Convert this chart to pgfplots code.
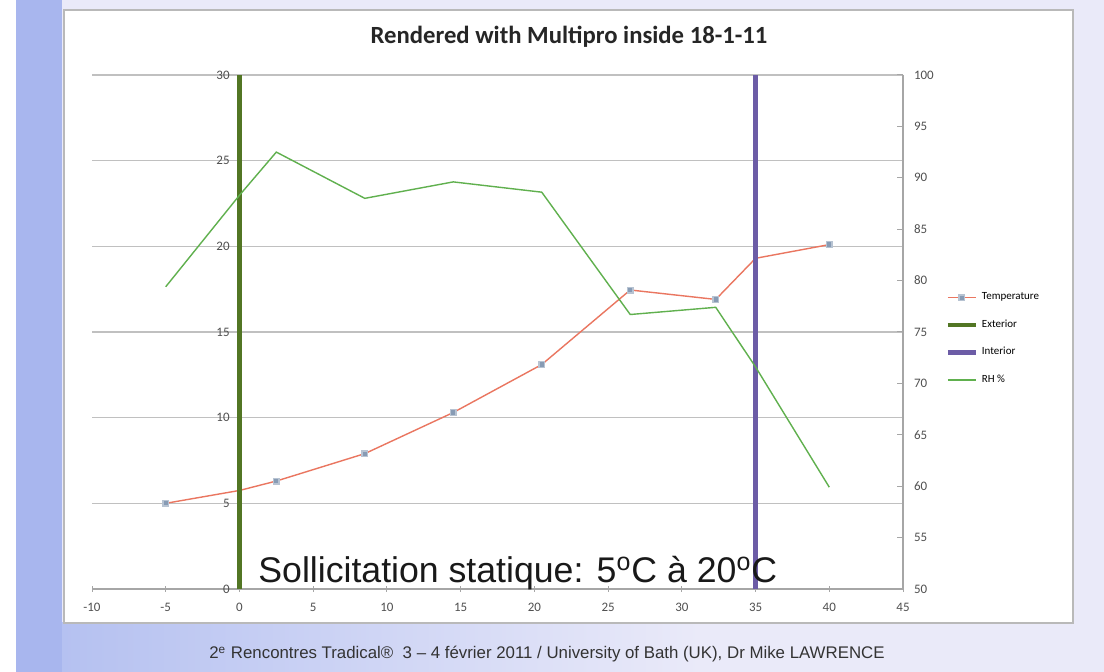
\documentclass[border=0pt]{standalone}
\usepackage{pgfplots}
\pgfplotsset{compat=1.18}
\usepackage{fontspec}
\setmainfont{Carlito}
\newfontfamily\arial{Liberation Sans}
\definecolor{tempred}{RGB}{234,118,96}
\definecolor{markgray}{RGB}{135,155,180}
\definecolor{extgreen}{RGB}{82,118,36}
\definecolor{intpurple}{RGB}{108,92,166}
\definecolor{rhgreen}{RGB}{96,176,78}
\definecolor{slidebg}{RGB}{234,234,249}
\definecolor{slideblue}{RGB}{168,182,238}
\definecolor{gridgray}{RGB}{192,192,192}
\definecolor{ticktext}{RGB}{80,80,80}

\begin{document}
\begin{tikzpicture}[x=0.5bp,y=0.5bp]
\useasboundingbox (0,0) rectangle (1104,672);
% slide background
\fill[slidebg] (0,0) rectangle (1104,672);
\fill[white] (0,0) rectangle (16,672);
\fill[slideblue] (16,0) rectangle (62,672);
\shade[left color=slideblue!85, right color=slidebg] (62,0) rectangle (700,49);
\draw[fill=white, draw=gray!55, line width=0.8bp] (64,49) rectangle (1073,662);

\pgfplotsset{
  every axis/.append style={
    at={(46bp,41.5bp)}, anchor=south west,
    scale only axis, width=405.5bp, height=257bp,
    xmin=-10, xmax=45,
    /pgf/number format/assume math mode=true,
    tick label style={font=\fontsize{6.5}{7}\selectfont, text=ticktext},
    tick style={draw=gray!70, line width=0.5bp},
    major tick length=3bp,
  }
}

\begin{axis}[
  ymin=0, ymax=30,
  axis x line=bottom, axis y line=left,
  x axis line style={-, draw=gray!70, line width=0.6bp},
  y axis line style={draw=none}, ytick style={draw=none},
  xtick={-10,-5,...,45}, ytick={0,5,...,30},
  ymajorgrids, grid style={draw=gridgray, line width=0.8bp},
  x tick label style={yshift=-2bp},
  y tick label style={xshift=73.8bp},
  clip=false,
]
\addplot[tempred, line width=0.7bp,
  mark=square*, mark size=1.4bp, mark indices={1,3,4,5,6,7,8,10},
  mark options={fill=markgray, draw=markgray!60}]
  coordinates {
  (-5,5.0) (0,5.75) (2.5,6.3) (8.5,7.9) (14.5,10.3) (20.5,13.1)
  (26.5,17.45) (32.3,16.9) (35,19.3) (40,20.1)
};
\addplot[extgreen, line width=2.6bp] coordinates {(0,0) (0,30)};
\addplot[intpurple, line width=2.6bp] coordinates {(35,0) (35,30)};
\end{axis}

\begin{axis}[
  ymin=50, ymax=100,
  axis x line=none, axis y line*=right,
  y axis line style={-, draw=gray!70, line width=0.6bp},
  ytick={50,55,...,100},
  y tick label style={xshift=2bp},
  legend style={at={(1.052,0.585)}, anchor=north west, draw=none, fill=none,
    font=\fontsize{5.5}{6}\selectfont, row sep=4.5bp, inner sep=0pt},
  legend cell align=left,
  legend image code/.code={\draw[mark repeat=2,mark phase=2,#1]
    plot coordinates {(0bp,0bp) (7bp,0bp) (14bp,0bp)};},
]
\addlegendimage{tempred, line width=0.7bp, mark=square*, mark size=1.4bp,
  mark options={fill=markgray, draw=markgray!60}}
\addlegendentry{Temperature}
\addlegendimage{extgreen, line width=2.2bp}
\addlegendentry{Exterior}
\addlegendimage{intpurple, line width=2.2bp}
\addlegendentry{Interior}
\addplot[rhgreen, line width=0.7bp, mark=none] coordinates {
  (-5,79.4) (0,88.3) (2.5,92.5) (8.5,88.0) (14.5,89.6) (20.5,88.6)
  (26.5,76.7) (32.3,77.4) (35,71.6) (40,59.9)
};
\addlegendentry{RH \%}
\end{axis}

\node[font=\fontsize{12.4}{14}\selectfont\bfseries, text=black!85] at (569,635)
  {Rendered with Multipro inside 18-1-11};
\node[anchor=base west, inner sep=0pt, font=\arial\fontsize{17.9}{21}\selectfont, text=black!90]
  at (258,89) {Sollicitation statique: 5\textsuperscript{o}C à 20\textsuperscript{o}C};
\node[anchor=base, inner sep=0pt, font=\arial\fontsize{8.45}{10}\selectfont, text=black!80]
  at (547,13) {2\textsuperscript{e} Rencontres Tradical\textregistered\ \ 3 – 4 février 2011 / University of Bath (UK), Dr Mike LAWRENCE};
\end{tikzpicture}
\end{document}
